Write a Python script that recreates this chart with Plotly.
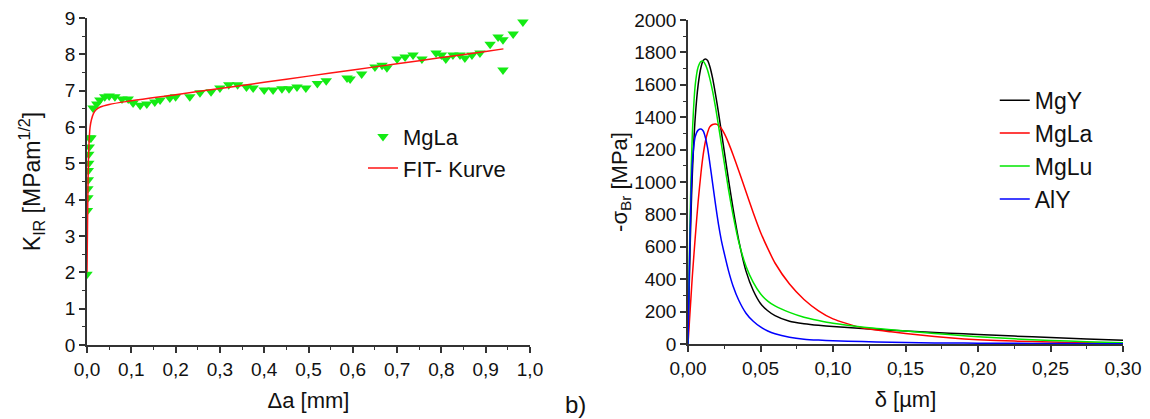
import plotly.graph_objects as go

# ---------------- Left panel data (MgLa, K_IR vs delta a) ----------------
mgla_x = [0.000, 0.001, 0.002, 0.002, 0.003, 0.003, 0.004, 0.004, 0.005, 0.005, 0.007, 0.009,
          0.0135, 0.022, 0.029, 0.040, 0.050, 0.063, 0.079, 0.093, 0.104, 0.120, 0.135, 0.153,
          0.165, 0.187, 0.200, 0.232, 0.255, 0.280, 0.300, 0.320, 0.340, 0.360, 0.375, 0.400,
          0.420, 0.440, 0.456, 0.474, 0.494, 0.520, 0.540, 0.587, 0.594, 0.620, 0.650, 0.666,
          0.677, 0.700, 0.718, 0.736, 0.756, 0.788, 0.800, 0.810, 0.826, 0.842, 0.853, 0.869,
          0.887, 0.910, 0.928, 0.939, 0.939, 0.962, 0.984, 0.940]
mgla_y = [1.95, 3.70, 4.05, 4.30, 4.55, 4.80, 5.00, 5.25, 5.45, 5.70, 5.70, 5.70,
          6.52, 6.63, 6.74, 6.83, 6.85, 6.83, 6.77, 6.77, 6.66, 6.60, 6.63, 6.69,
          6.74, 6.80, 6.83, 6.83, 6.94, 6.97, 7.07, 7.16, 7.16, 7.10, 7.07, 7.02,
          7.02, 7.05, 7.05, 7.10, 7.07, 7.20, 7.27, 7.35, 7.32, 7.46, 7.65, 7.70,
          7.63, 7.87, 7.93, 7.98, 7.87, 8.04, 7.98, 7.87, 7.98, 7.98, 7.90, 7.98,
          8.04, 8.28, 8.48, 8.40, 7.57, 8.56, 8.89, -0.10]

fit_x = [0.000, 0.002, 0.004, 0.007, 0.010, 0.015, 0.020, 0.030, 0.050, 0.100, 0.200, 0.300,
         0.400, 0.500, 0.600, 0.700, 0.800, 0.900, 0.940]
fit_y = [2.00, 4.20, 5.40, 6.00, 6.20, 6.38, 6.47, 6.55, 6.62, 6.72, 6.89, 7.06,
         7.23, 7.40, 7.57, 7.74, 7.91, 8.08, 8.15]

# ---------------- Right panel data (-sigma_Br vs delta) ----------------
d_x = [0.000, 0.001, 0.002, 0.003, 0.005, 0.007, 0.009, 0.0105, 0.012, 0.0135, 0.015, 0.017,
       0.019, 0.021, 0.023, 0.025, 0.028, 0.031, 0.035, 0.040, 0.045, 0.050, 0.055, 0.060,
       0.070, 0.080, 0.090, 0.100, 0.120, 0.140, 0.160, 0.180, 0.200, 0.225, 0.250, 0.275, 0.300]

mgy = [0, 420, 780, 1050, 1400, 1600, 1710, 1750, 1759, 1750, 1715, 1640,
       1540, 1430, 1310, 1190, 1010, 840, 640, 450, 330, 250, 205, 175,
       140, 125, 115, 108, 95, 85, 76, 67, 59, 49, 40, 31, 23]
mgla = [0, 140, 280, 420, 660, 880, 1060, 1170, 1250, 1305, 1340, 1355,
        1358, 1350, 1330, 1300, 1240, 1170, 1070, 940, 810, 690, 590, 500,
        370, 275, 205, 155, 100, 75, 55, 38, 26, 18, 12, 8, 5]
mglu = [0, 560, 1000, 1300, 1600, 1710, 1745, 1745, 1725, 1690, 1640, 1560,
        1460, 1350, 1235, 1120, 950, 800, 630, 480, 380, 310, 265, 235,
        195, 165, 145, 128, 105, 88, 73, 58, 45, 32, 22, 14, 8]
aly = [0, 500, 880, 1120, 1280, 1320, 1327, 1315, 1275, 1210, 1120, 990,
       860, 740, 640, 560, 450, 360, 270, 190, 140, 105, 80, 63,
       42, 30, 24, 20, 15, 11, 8, 6, 5, 4, 3, 2, 2]

FONT = "Liberation Sans, Arial, sans-serif"
AXCOL = "#333333"

fig = go.Figure()

fig.add_trace(go.Scatter(x=mgla_x, y=mgla_y, mode="markers", name="MgLa",
                         marker=dict(symbol="triangle-down", size=10, color="rgb(20,235,20)",
                                     line=dict(width=0)),
                         xaxis="x", yaxis="y", legend="legend"))
fig.add_trace(go.Scatter(x=fit_x, y=fit_y, mode="lines", name="FIT- Kurve",
                         line=dict(color="rgb(255,20,20)", width=1.5, shape="spline"),
                         xaxis="x", yaxis="y", legend="legend"))

for name, vals, col in [("MgY", mgy, "rgb(0,0,0)"), ("MgLa", mgla, "rgb(255,0,0)"),
                        ("MgLu", mglu, "rgb(0,230,0)"), ("AlY", aly, "rgb(0,0,255)")]:
    fig.add_trace(go.Scatter(x=d_x, y=vals, mode="lines", name=name,
                             line=dict(color=col, width=1.5, shape="spline", smoothing=0.6),
                             xaxis="x2", yaxis="y2", legend="legend2"))

common = dict(showline=True, linecolor=AXCOL, linewidth=1.5, ticks="outside", ticklen=6,
              tickwidth=1.5, tickcolor=AXCOL, showgrid=False, zeroline=False, automargin=False,
              tickfont=dict(family=FONT, size=19, color="#111"),
              minor=dict(ticks="outside", ticklen=3, tickwidth=1.2, tickcolor=AXCOL))

fig.update_layout(
    width=1150, height=419, margin=dict(l=0, r=0, t=0, b=0),
    paper_bgcolor="white", plot_bgcolor="white", separators=", ",
    font=dict(family=FONT, color="#111"),
    xaxis=dict(domain=[87 / 1150, 530 / 1150], range=[0, 1.0], dtick=0.1, tickformat=".1f",
               minor_dtick=0.05, anchor="y",
               title=dict(text="Δa [mm]", font=dict(size=22), standoff=14), **common),
    yaxis=dict(domain=[74 / 419, 401 / 419], range=[0, 9], dtick=1, minor_dtick=0.5, anchor="x",
               title=dict(text="K<sub>IR</sub> [MPam<sup>1/2</sup>]", font=dict(size=23), standoff=18),
               **common),
    xaxis2=dict(domain=[688 / 1150, 1123 / 1150], range=[0, 0.30], dtick=0.05, tickformat=".2f",
                minor_dtick=0.025, anchor="y2",
                title=dict(text="δ [µm]", font=dict(size=22), standoff=14), **common),
    yaxis2=dict(domain=[75 / 419, 399 / 419], range=[0, 2000], dtick=200, minor_dtick=100, anchor="x2",
                title=dict(text="-σ<sub>Br</sub> [MPa]", font=dict(size=22), standoff=0),
                **common),
    legend=dict(x=363 / 1150, y=0.724, xanchor="left", yanchor="top", bgcolor="rgba(0,0,0,0)",
                font=dict(family=FONT, size=22, color="#111"), tracegroupgap=0),
    legend2=dict(x=0.865, y=0.812, xanchor="left", yanchor="top", bgcolor="rgba(0,0,0,0)",
                 font=dict(family=FONT, size=23, color="#111"), tracegroupgap=0),
    annotations=[dict(text="b)", x=575 / 1150, y=1 - 404 / 419, xref="paper", yref="paper",
                      xanchor="center", yanchor="middle", showarrow=False,
                      font=dict(family=FONT, size=24, color="#111"))],
)

fig.write_html("out.html")
